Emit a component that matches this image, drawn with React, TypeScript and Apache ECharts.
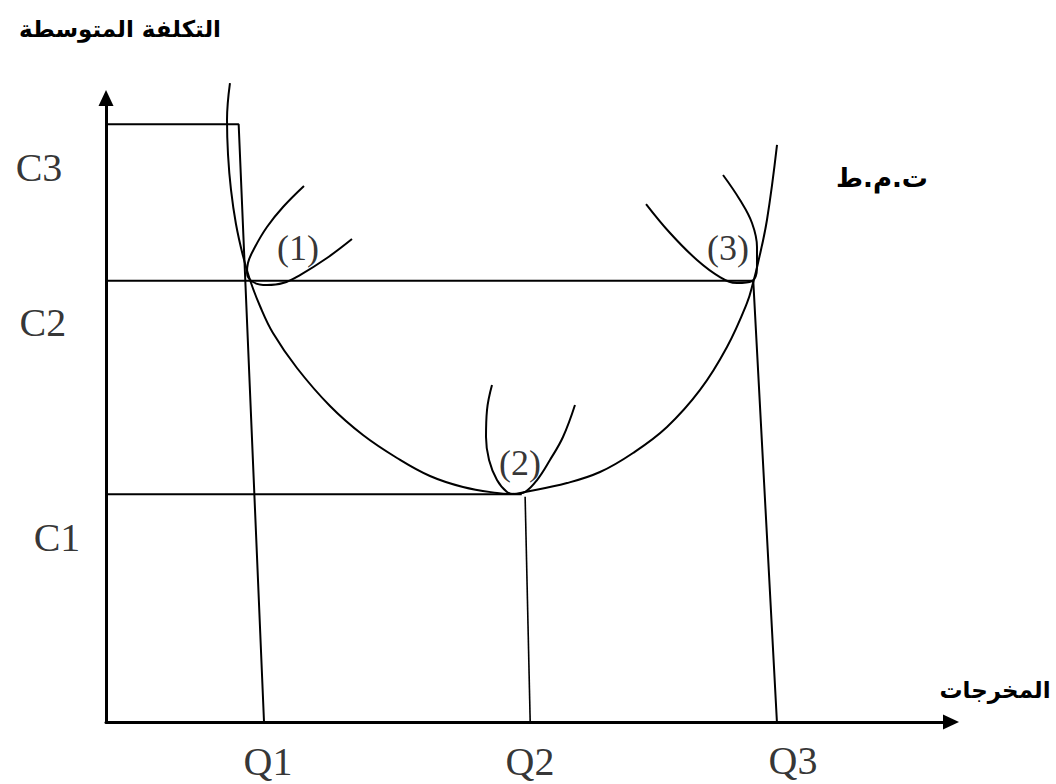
import React, { useEffect, useRef } from "react";
import * as echarts from "echarts";

// Long-run average cost envelope (LRAC) – output (x, 0..100) vs average cost (y, 0..100)
const lrac: number[][] = [
  [14.67, 102.4], [14.32, 96.5], [14.44, 90.9], [14.79, 85.3], [15.38, 79.8],
  [16.21, 74.7], [17.04, 70.83], [18.22, 66.67], [19.76, 62.34], [22.6, 56.73],
  [26.51, 50.64], [30.41, 45.99], [34.44, 42.31], [38.34, 39.42], [42.25, 37.66],
  [46.27, 36.7], [48.05, 36.54], [49.59, 36.86], [54.56, 38.3], [58.46, 40.06],
  [62.37, 43.11], [66.39, 47.28], [70.3, 53.21], [73.49, 60.1], [75.86, 67.15],
  [76.57, 70.35], [77.1, 73.2], [78.22, 80.45], [79.41, 92.47],
];

// Short-run average cost curves (1), (2), (3)
const srac1: number[][] = [
  [23.43, 85.9], [20.95, 82.53], [19.05, 79.33], [17.63, 76.12], [16.8, 73.56],
  [16.69, 71.96], [17.4, 70.51], [19.05, 70.03], [20.95, 70.35], [22.96, 71.63],
  [26.15, 74.36], [29.11, 77.4],
];
const srac2: number[][] = [
  [45.68, 54.01], [45.09, 50.0], [44.97, 45.67], [45.33, 41.99], [46.27, 38.78],
  [47.46, 36.86], [48.4, 36.54], [49.59, 36.86], [51.01, 38.78], [52.54, 41.99],
  [54.08, 45.67], [55.5, 50.8],
];
const srac3: number[][] = [
  [63.91, 83.01], [66.75, 78.37], [69.94, 74.04], [72.66, 71.31], [74.67, 70.35],
  [76.45, 70.67], [77.04, 72.92], [77.04, 76.12], [76.45, 79.97], [75.03, 83.65],
  [73.02, 87.66],
];

// Guide lines: cost level -> tangency -> output level
const guideC3: number[][] = [[0, 95.8], [15.7, 95.8], [18.7, 0]];
const guideC2: number[][] = [[0, 70.7], [76.6, 70.7], [79.4, 0]];
const guideC1: number[][] = [[0, 36.5], [49.2, 36.5]];
const guideQ2: number[][] = [[49.6, 36.1], [50.2, 0]];

// Tick labels
const costLabels = ["C1", "C2", "C3"];
const outputLabels = ["Q1", "Q2", "Q3"];
const plantLabels = ["(1)", "(2)", "(3)"];

// Label anchors (data units)
const costLabelAt = [[-5.8, 29.5], [-7.46, 64.1], [-7.93, 88.8]];
const outputLabelAt = [[19.17, -6.41], [50.18, -6.41], [81.3, -6.09]];
const plantLabelAt = [[22.72, 75.96], [48.99, 41.51], [73.6, 75.96]];

const yTitle = "التكلفة المتوسطة";
const xTitle = "المخرجات";
const curveTitle = "ت.م.ط";

const SERIF = "'Liberation Serif', 'Times New Roman', serif";
const ARABIC = "'DejaVu Sans', sans-serif";

function curve(name: string, data: number[][]) {
  return {
    name,
    type: "line",
    data,
    smooth: 0.4,
    showSymbol: false,
    clip: false,
    silent: true,
    lineStyle: { color: "#000", width: 2 },
  };
}

function straight(name: string, data: number[][], width: number) {
  return {
    name,
    type: "line",
    data,
    smooth: false,
    showSymbol: false,
    clip: false,
    silent: true,
    lineStyle: { color: "#000", width },
  };
}

function labels(name: string, texts: string[], at: number[][], size: number) {
  return {
    name,
    type: "scatter",
    clip: false,
    silent: true,
    symbolSize: 1,
    itemStyle: { color: "rgba(0,0,0,0)" },
    data: texts.map((t, i) => ({ value: [at[i][0], at[i][1]], name: t })),
    label: {
      show: true,
      position: "inside",
      formatter: "{b}",
      color: "#000",
      fontFamily: SERIF,
      fontSize: size,
    },
  };
}

function arabicText(text: string, x: number, y: number, size: number) {
  return {
    type: "text",
    x,
    y,
    silent: true,
    style: {
      text,
      fill: "#000",
      fontFamily: ARABIC,
      fontWeight: "bold",
      fontSize: size,
      align: "center",
      verticalAlign: "middle",
      textAlign: "center",
      textVerticalAlign: "middle",
    },
  };
}

export default function App() {
  const ref = useRef<HTMLDivElement>(null);
  useEffect(() => {
    if (!ref.current) return;
    const chart = echarts.init(ref.current, null, { renderer: "svg" });
    const axisCommon = {
      type: "value",
      min: 0,
      max: 100,
      axisTick: { show: false },
      axisLabel: { show: false },
      splitLine: { show: false },
      axisLine: {
        show: true,
        onZero: false,
        symbol: ["none", "triangle"],
        symbolSize: [15, 16],
        lineStyle: { color: "#000", width: 3 },
      },
    };
    chart.setOption({
      animation: false,
      backgroundColor: "#fff",
      grid: { left: 106, right: 105, top: 98, bottom: 62, containLabel: false },
      xAxis: { ...axisCommon },
      yAxis: { ...axisCommon },
      graphic: [
        arabicText(yTitle, 120, 29, 23),
        arabicText(curveTitle, 882, 178, 26),
        arabicText(xTitle, 995, 690, 23),
      ],
      series: [
        straight("C3 guide", guideC3, 2),
        straight("C2 guide", guideC2, 2),
        straight("C1 guide", guideC1, 2),
        straight("Q2 guide", guideQ2, 1.6),
        curve("LRAC", lrac),
        curve("SRAC1", srac1),
        curve("SRAC2", srac2),
        curve("SRAC3", srac3),
        labels("cost labels", costLabels, costLabelAt, 40),
        labels("output labels", outputLabels, outputLabelAt, 40),
        labels("plant labels", plantLabels, plantLabelAt, 36),
      ],
    });
    return () => chart.dispose();
  }, []);
  return (
    <div
      ref={ref}
      style={{ position: "fixed", left: 0, top: 0, width: 1056, height: 784, background: "#fff" }}
    />
  );
}
